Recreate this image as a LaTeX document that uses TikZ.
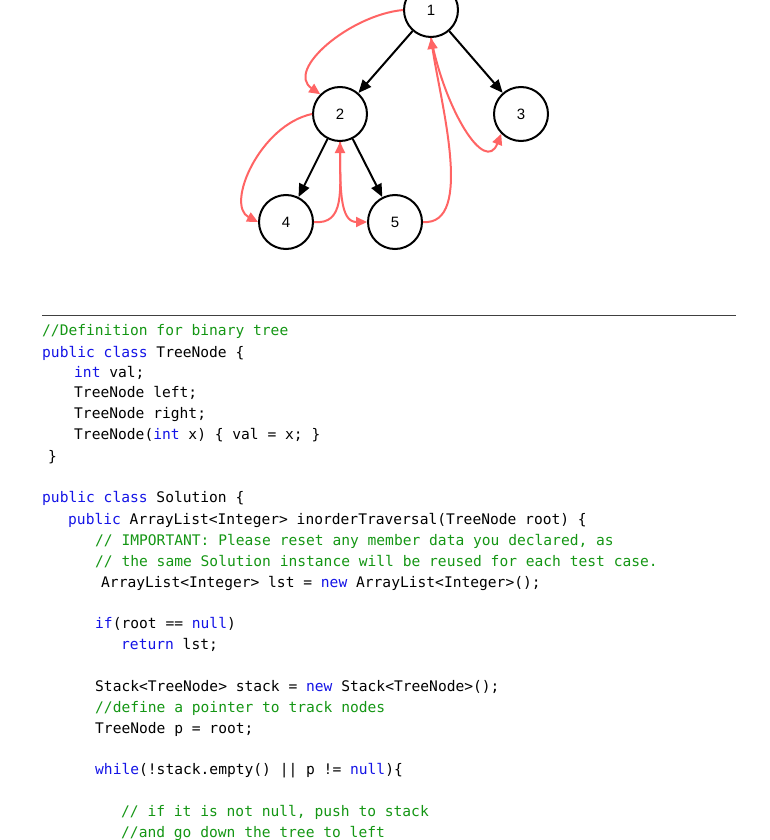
\documentclass[tikz,border=0pt]{standalone}
\usepackage{fontspec}
\setmainfont{Liberation Sans}
\setmonofont{DejaVu Sans Mono}
\usetikzlibrary{arrows.meta}
\definecolor{kw}{RGB}{20,20,230}
\definecolor{cm}{RGB}{20,150,20}
\definecolor{rd}{RGB}{255,100,100}
\begin{document}
\begin{tikzpicture}[x=1pt,y=-1pt,
  tn/.style={circle,draw,line width=2pt,minimum size=54pt,inner sep=0pt,font=\fontsize{15}{15}\selectfont},
  blk/.style={-{Triangle[length=13pt,width=11pt]},line width=2pt},
  red/.style={-{Triangle[length=11pt,width=10pt]},line width=2pt,rd},
  code/.style={anchor=base west,inner sep=0pt,font=\ttfamily\fontsize{14.6}{14.6}\selectfont}]
\useasboundingbox (0,0) rectangle (770,840);
\node[tn] (n1) at (431,10) {1};
\node[tn] (n2) at (340,114) {2};
\node[tn] (n3) at (521,114) {3};
\node[tn] (n4) at (286,222) {4};
\node[tn] (n5) at (395,222) {5};
\draw[blk] (n1) -- (n2);
\draw[blk] (n1) -- (n3);
\draw[blk] (n2) -- (n4);
\draw[blk] (n2) -- (n5);
\draw[red] (n1.west) .. controls (350,15) and (285,70) .. (n2.north west);
\draw[red] (n2.west) .. controls (260,125) and (225,205) .. (n4.west);
\draw[red] (n4.east) .. controls (345,225) and (340,190) .. (n2.south);
\draw[red] (n2.south) .. controls (340,190) and (340,222) .. (n5.west);
\draw[red] (n5.east) .. controls (475,226) and (440,100) .. (n1.south);
\draw[red] (n1.south) .. controls (445,110) and (485,175) .. (n3.south west);
\coordinate (la) at (42,315); \coordinate (lb) at (736,315);
\draw[line width=1pt,black!75] (la) -- (lb);
\node[code] (c1) at (42,335) {\color{cm}//Definition for binary tree};
\node[code] (c2) at (42,357) {\color{kw}public class \color{black}TreeNode \{};
\node[code] (c3) at (74,377) {\color{kw}int \color{black}val;};
\node[code] (c4) at (74,397) {TreeNode left;};
\node[code] (c5) at (74,418) {TreeNode right;};
\node[code] (c6) at (74,439) {TreeNode(\color{kw}int \color{black}x) \{ val = x; \}};
\node[code] (c7) at (48,461) {\}};
\node[code] (c8) at (42,502) {\color{kw}public class \color{black}Solution \{};
\node[code] (c9) at (68,524) {\color{kw}public \color{black}ArrayList<Integer> inorderTraversal(TreeNode root) \{};
\node[code] (c10) at (95,545) {\color{cm}// IMPORTANT: Please reset any member data you declared, as};
\node[code] (c11) at (95,566) {\color{cm}// the same Solution instance will be reused for each test case.};
\node[code] (c12) at (101,587) {ArrayList<Integer> lst = \color{kw}new \color{black}ArrayList<Integer>();};
\node[code] (c13) at (95,628) {\color{kw}if\color{black}(root == \color{kw}null\color{black})};
\node[code] (c14) at (121,649) {\color{kw}return \color{black}lst;};
\node[code] (c15) at (95,691) {Stack<TreeNode> stack = \color{kw}new \color{black}Stack<TreeNode>();};
\node[code] (c16) at (95,712) {\color{cm}//define a pointer to track nodes};
\node[code] (c17) at (95,733) {TreeNode p = root;};
\node[code] (c18) at (95,774) {\color{kw}while\color{black}(!stack.empty() || p != \color{kw}null\color{black})\{};
\node[code] (c19) at (121,816) {\color{cm}// if it is not null, push to stack};
\node[code] (c20) at (121,837) {\color{cm}//and go down the tree to left};
\end{tikzpicture}
\end{document}
